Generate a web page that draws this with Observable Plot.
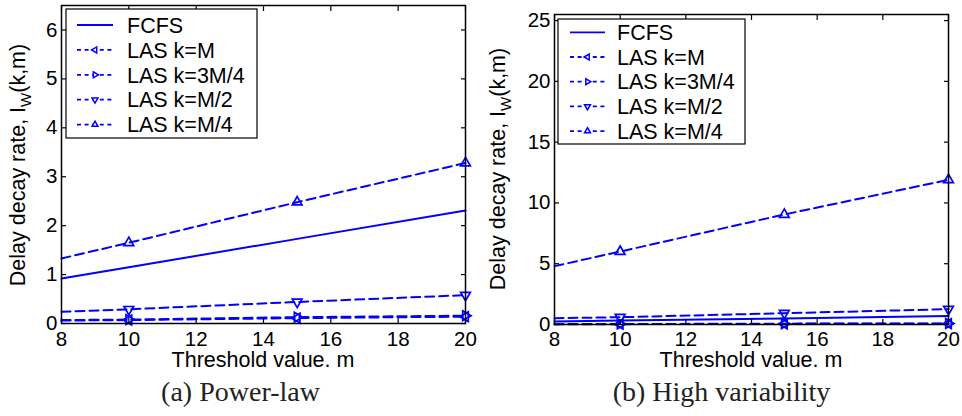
<!DOCTYPE html>
<html>
<head>
<meta charset="utf-8">
<script src="https://cdn.jsdelivr.net/npm/d3@7"></script>
<script src="https://cdn.jsdelivr.net/npm/@observablehq/plot@0.6"></script>
<style>
  body { margin: 0; background: #fff; }
  #fig { position: relative; width: 962px; height: 416px; overflow: hidden; background: #fff; }
  .panel { position: absolute; top: 0; }
  .caption { position: absolute; top: 378px; width: 481px; text-align: center;
             font-family: "Liberation Serif", "Times New Roman", serif; font-size: 28px;
             line-height: 28px; color: #222; }
</style>
</head>
<body>
<div id="fig"></div>
<script>
// Threshold values m on the x axis
const thresholds = [8, 10, 15, 20];
const markedThresholds = [10, 15, 20];
const xTicks = [8, 10, 12, 14, 16, 18, 20];

// Series (legend order) and their marker shapes
const seriesNames = ["FCFS", "LAS k=M", "LAS k=3M/4", "LAS k=M/2", "LAS k=M/4"];
const seriesMarkers = [null, "left", "right", "down", "up"];

// (a) Power-law: delay decay rate per threshold
const powerFCFS  = [0.92, 1.15, 1.73, 2.31];
const powerLasM   = [0.06, 0.07, 0.11, 0.14];
const powerLas3M4 = [0.07, 0.08, 0.13, 0.16];
const powerLasM2  = [0.24, 0.29, 0.44, 0.58];
const powerLasM4  = [1.33, 1.65, 2.48, 3.28];
const powerYTicks = [0, 1, 2, 3, 4, 5, 6];

// (b) High variability: delay decay rate per threshold
const highFCFS   = [0.25, 0.32, 0.50, 0.69];
const highLasM    = [0.02, 0.03, 0.05, 0.07];
const highLas3M4  = [0.03, 0.04, 0.07, 0.09];
const highLasM2   = [0.52, 0.60, 0.93, 1.26];
const highLasM4   = [4.80, 6.00, 9.05, 11.9];
const highYTicks = [0, 5, 10, 15, 20, 25];

const BLUE = "#0000ff";
const DASH = "9,5";
const FONT = "'Liberation Sans', Arial, sans-serif";
const LABEL_SIZE = 21.5;
const ROT = {up: 0, right: 90, down: 180, left: -90};

function drawPanel(seriesValues, yDomain, yTicks, layout) {
  const rows = seriesValues.flatMap((vals, s) => thresholds.map((t, i) => ({m: t, v: vals[i], s})));
  const marks = [];
  seriesValues.forEach((vals, s) => {
    const data = rows.filter(d => d.s === s);
    marks.push(Plot.line(data, {
      x: "m", y: "v", stroke: BLUE, strokeWidth: 2,
      strokeDasharray: seriesMarkers[s] ? DASH : undefined
    }));
    if (seriesMarkers[s]) {
      marks.push(Plot.dot(data.filter(d => markedThresholds.includes(d.m)), {
        x: "m", y: "v", symbol: "triangle", r: 3.6, stroke: BLUE, strokeWidth: 1.7,
        fill: "none", rotate: ROT[seriesMarkers[s]]
      }));
    }
  });
  marks.push(Plot.frame({stroke: "black", strokeWidth: 1.5}));
  marks.push(Plot.axisX(xTicks, {anchor: "bottom", tickSize: -5, tickPadding: layout.xpad, strokeWidth: 1.2, label: null}));
  marks.push(Plot.axisX(xTicks, {anchor: "top", tickSize: -5, tickFormat: () => null, strokeWidth: 1.2, label: null}));
  marks.push(Plot.axisY(yTicks, {anchor: "left", tickSize: -5, tickPadding: 9, strokeWidth: 1.2, label: null}));
  marks.push(Plot.axisY(yTicks, {anchor: "right", tickSize: -5, tickFormat: () => null, strokeWidth: 1.2, label: null}));

  const svg = Plot.plot({
    width: 481, height: 375,
    marginLeft: layout.ml, marginRight: layout.mr, marginTop: layout.mt, marginBottom: layout.mb,
    x: {domain: [8, 20]},
    y: {domain: yDomain},
    style: {fontFamily: FONT, fontSize: "20.5px", color: "black", background: "white", overflow: "visible"},
    marks
  });

  const g = d3.select(svg);

  // y-axis label with subscript W
  const yl = g.append("text")
    .attr("transform", `translate(${layout.ylx},${layout.yly}) rotate(-90)`)
    .attr("text-anchor", "middle")
    .attr("font-family", FONT).attr("font-size", LABEL_SIZE).attr("fill", "black");
  yl.append("tspan").text("Delay decay rate, I");
  yl.append("tspan").attr("dy", 6).attr("font-size", 15).text("W");
  yl.append("tspan").attr("dy", -6).text("(k,m)");

  // x-axis label
  g.append("text")
    .attr("x", layout.ml + (481 - layout.ml - layout.mr) / 2).attr("y", 367)
    .attr("text-anchor", "middle")
    .attr("font-family", FONT).attr("font-size", LABEL_SIZE).attr("fill", "black")
    .text("Threshold value. m");

  // legend box
  const L = layout.legend;
  const lg = g.append("g").attr("text-anchor", "start");
  lg.append("rect").attr("x", L.x).attr("y", L.y).attr("width", L.w).attr("height", L.h)
    .attr("fill", "white").attr("stroke", "black").attr("stroke-width", 1.2);
  seriesNames.forEach((name, s) => {
    const y = L.y0 + s * L.step;
    lg.append("line").attr("x1", L.lx1).attr("x2", L.lx2).attr("y1", y).attr("y2", y)
      .attr("stroke", BLUE).attr("stroke-width", 1.8)
      .attr("stroke-dasharray", seriesMarkers[s] ? "4,3.6" : null);
    if (seriesMarkers[s]) {
      lg.append("path")
        .attr("d", d3.symbol(d3.symbolTriangle2, 2.8 * 2.8 * Math.PI)())
        .attr("transform", `translate(${(L.lx1 + L.lx2) / 2},${y}) rotate(${ROT[seriesMarkers[s]]})`)
        .attr("fill", "white").attr("stroke", BLUE).attr("stroke-width", 1.5);
    }
    lg.append("text").attr("x", L.tx).attr("y", y).attr("dy", "0.36em")
      .attr("text-anchor", "start")
      .attr("font-family", FONT).attr("font-size", LABEL_SIZE).attr("fill", "black").text(name);
  });
  return svg;
}

const fig = document.getElementById("fig");

const left = drawPanel(
  [powerFCFS, powerLasM, powerLas3M4, powerLasM2, powerLasM4],
  [0, 6.5], powerYTicks,
  {ml: 61, mr: 16, mt: 5, mb: 52, xpad: 13, ylx: 25, yly: 165,
   legend: {x: 66, y: 9, w: 191, h: 129, y0: 25, step: 24.9, lx1: 77, lx2: 113, tx: 127}}
);
left.classList.add("panel");
left.style.left = "0px";
fig.appendChild(left);

const right = drawPanel(
  [highFCFS, highLasM, highLas3M4, highLasM2, highLasM4],
  [0, 25.5], highYTicks,
  {ml: 73, mr: 14, mt: 14, mb: 51, xpad: 12, ylx: 24, yly: 169,
   legend: {x: 77, y: 19, w: 187, h: 125, y0: 32.3, step: 24.7, lx1: 89, lx2: 124, tx: 136}}
);
right.classList.add("panel");
right.style.left = "481px";
fig.appendChild(right);

for (const [i, text] of ["(a) Power-law", "(b) High variability"].entries()) {
  const c = document.createElement("div");
  c.className = "caption";
  c.style.left = (i === 0 ? 0 : 481) + "px";
  c.textContent = text;
  fig.appendChild(c);
}
</script>
</body>
</html>
